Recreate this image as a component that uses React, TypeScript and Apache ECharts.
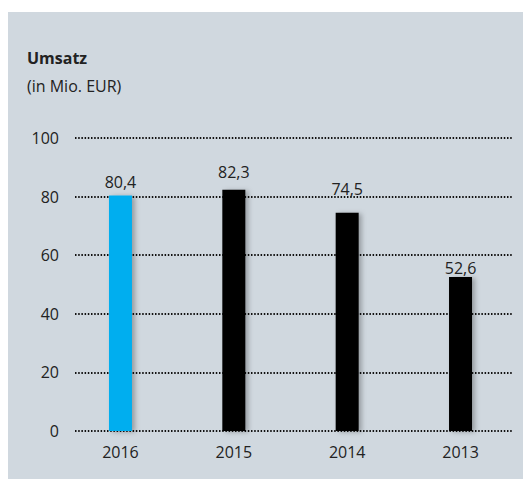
import React, { useEffect, useRef } from "react";
import * as echarts from "echarts";

const categories = ["2016", "2015", "2014", "2013"];
const revenue = [80.4, 82.3, 74.5, 52.6];
const yTicks = { min: 0, max: 100, interval: 20 };
const titleText = "Umsatz";
const unitText = "(in Mio. EUR)";

const barColors = ["#00aeef", "#000000", "#000000", "#000000"];
const labelDistances = [5, 10, 16, 1];

const FONT = "'Open Sans', 'Noto Sans', sans-serif";
const TEXT = "#222222";

export default function App() {
  const ref = useRef<HTMLDivElement>(null);
  useEffect(() => {
    if (!ref.current) return;
    const chart = echarts.init(ref.current, undefined, { renderer: "svg" });
    chart.setOption({
      animation: false,
      backgroundColor: "transparent",
      textStyle: { fontFamily: FONT },
      graphic: [
        { type: "text", left: 27, top: 50, style: { text: titleText, font: `bold 16px ${FONT}`, fill: TEXT } },
        { type: "text", left: 27, top: 78, style: { text: unitText, font: `16px ${FONT}`, fill: TEXT } },
      ],
      grid: [
        { left: 75, right: 10, top: 138, bottom: 48 },
        { left: 63.8, right: 5.8, top: 138, bottom: 48 },
      ],
      xAxis: [
        { gridIndex: 0, type: "value", min: 0, max: 1, show: false },
        {
          gridIndex: 1,
          type: "category",
          data: categories,
          axisLine: { show: false },
          axisTick: { show: false },
          axisLabel: { fontSize: 16, color: TEXT, margin: 13, fontFamily: FONT },
        },
      ],
      yAxis: [
        {
          gridIndex: 0,
          type: "value",
          min: yTicks.min,
          max: yTicks.max,
          interval: yTicks.interval,
          axisLine: { show: false },
          axisTick: { show: false },
          axisLabel: { fontSize: 16, color: TEXT, margin: 16, fontFamily: FONT },
          splitLine: {
            show: true,
            lineStyle: { color: "#111", width: 2, type: [1.5, 1.7] },
          },
        },
        { gridIndex: 1, type: "value", min: yTicks.min, max: yTicks.max, show: false },
      ],
      series: [
        {
          type: "bar",
          xAxisIndex: 1,
          yAxisIndex: 1,
          barWidth: 23,
          data: revenue.map((v, i) => ({
            value: v,
            itemStyle: {
              color: barColors[i],
              shadowColor: "rgba(0,0,0,0.28)",
              shadowBlur: 5,
              shadowOffsetX: 3,
              shadowOffsetY: 1,
            },
            label: { distance: labelDistances[i] },
          })),
          label: {
            show: true,
            position: "top",
            fontSize: 16,
            color: TEXT,
            fontFamily: FONT,
            formatter: (p: any) => String(p.value).replace(".", ","),
          },
        },
      ],
    });
    return () => chart.dispose();
  }, []);
  return (
    <div style={{ position: "absolute", left: 0, top: 0, width: 523, height: 479, background: "#ffffff" }}>
      <div style={{ position: "absolute", left: 8, top: 12, width: 515, height: 467, background: "#d0d8df" }} />
      <div ref={ref} style={{ position: "absolute", left: 0, top: 0, width: 523, height: 479 }} />
    </div>
  );
}
